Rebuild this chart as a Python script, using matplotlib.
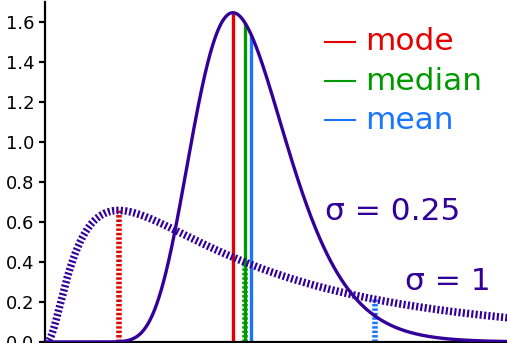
import numpy as np
import matplotlib.pyplot as plt

# lognormal distributions, mu = 0
sigmas = [0.25, 1.0]
sigma_labels = ["σ = 0.25", "σ = 1"]
label_pos = [(1.4, 0.65), (1.8, 0.3)]
stat_names = ["mode", "median", "mean"]
stat_colors = ["#e60000", "#009900", "#1a75ff"]
curve_color = "#330099"


def pdf(x, s):
    return np.exp(-np.log(x) ** 2 / (2 * s * s)) / (x * s * np.sqrt(2 * np.pi))


def stats(s):
    return [np.exp(-s * s), 1.0, np.exp(s * s / 2)]


fig = plt.figure(figsize=(5.07, 3.43), dpi=100)
ax = fig.add_axes([45 / 507, 1 / 343, 462 / 507, 340 / 343])

x = np.linspace(0.001, 2.4, 800)

# sigma = 0.25 solid
s = sigmas[0]
for xv, c in zip(stats(s), stat_colors):
    ax.plot([xv, xv], [0, pdf(xv, s)], color=c, lw=2.4, solid_capstyle="butt", zorder=2)
ax.plot(x, pdf(x, s), color=curve_color, lw=2.4, zorder=3)

# sigma = 1 dotted
s = sigmas[1]
for xv, c in zip(stats(s), stat_colors):
    ax.plot([xv, xv], [0, pdf(xv, s)], color=c, lw=4, dashes=(0.45, 0.35),
            dash_capstyle="butt", zorder=2)
ax.plot(x, pdf(x, s), color=curve_color, lw=5.5, dashes=(0.28, 0.28),
        dash_capstyle="butt", zorder=3)

for lab, (lx, ly) in zip(sigma_labels, label_pos):
    ax.text(lx, ly, lab, color=curve_color, fontsize=22.5, ha="left", va="center")

# legend
for i, (name, c) in enumerate(zip(stat_names, stat_colors)):
    yy = 1.5 - i * 0.195
    ax.plot([1.4, 1.55], [yy, yy], color=c, lw=1.5)
    ax.text(1.6, yy, name, color=c, fontsize=22.5, ha="left", va="center")

ax.set_xlim(0, 462 / 200)
ax.set_ylim(0, 1.7)
ax.set_yticks(np.arange(0, 1.61, 0.2))
ax.set_xticks([])
ax.spines["top"].set_visible(False)
ax.spines["right"].set_visible(False)
ax.spines["left"].set_linewidth(1.6)
ax.spines["bottom"].set_linewidth(1.6)
ax.tick_params(axis="y", labelsize=13, width=1.6, length=4)

fig.savefig("out.png", dpi=100)
